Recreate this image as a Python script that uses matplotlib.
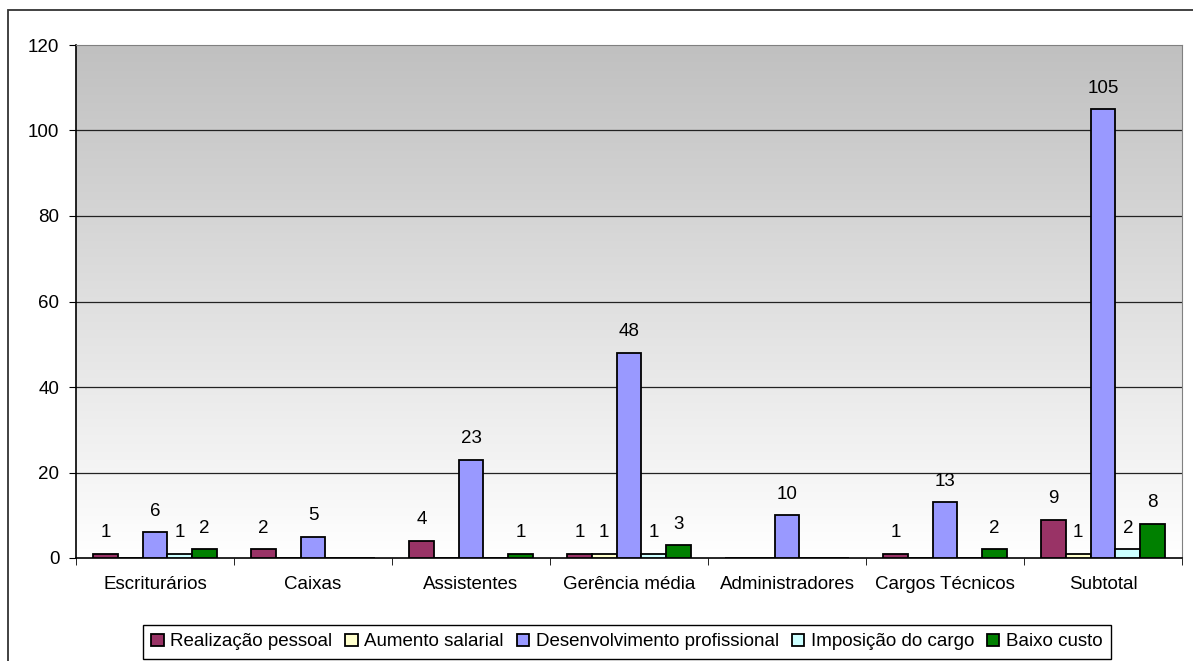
import numpy as np
import matplotlib.pyplot as plt
from matplotlib.patches import Rectangle
from matplotlib.colors import LinearSegmentedColormap

plt.rcParams['font.family'] = ['Liberation Sans', 'DejaVu Sans']

categorias = ['Escriturários', 'Caixas', 'Assistentes', 'Gerência média',
              'Administradores', 'Cargos Técnicos', 'Subtotal']
series = ['Realização pessoal', 'Aumento salarial', 'Desenvolvimento profissional',
          'Imposição do cargo', 'Baixo custo']
realizacao = [1, 2, 4, 1, 0, 1, 9]
aumento = [0, 0, 0, 1, 0, 0, 1]
desenvolvimento = [6, 5, 23, 48, 10, 13, 105]
imposicao = [1, 0, 0, 1, 0, 0, 2]
baixo_custo = [2, 0, 1, 3, 0, 2, 8]
cores = ['#993366', '#FFFFCC', '#9999FF', '#CCFFFF', '#008000']
yticks = [0, 20, 40, 60, 80, 100, 120]

valores = [realizacao, aumento, desenvolvimento, imposicao, baixo_custo]

fig = plt.figure(figsize=(11.93, 6.61), dpi=100)
# moldura do gráfico
fig.patches.append(Rectangle((8 / 1193, -0.1), 1.2, 1 - 10 / 661 + 0.1,
                             transform=fig.transFigure, fill=False,
                             edgecolor='#333333', lw=1.3))

ax = fig.add_axes([76 / 1193, 103 / 661, 1106 / 1193, 513 / 661])
n = len(categorias)
x = np.arange(n)
w = 0.157

# fundo em gradiente
grad = np.linspace(0, 1, 256).reshape(-1, 1)
ax.imshow(grad, cmap=LinearSegmentedColormap.from_list('g', ['#FFFFFF', '#C0C0C0']),
          origin='lower', aspect='auto', extent=[-0.5, n - 0.5, 0, 120], zorder=0)

for yv in yticks[1:-1]:
    ax.axhline(yv, color='#222222', lw=0.9, zorder=1)

for i, (vals, cor, nome) in enumerate(zip(valores, cores, series)):
    pos = x + (i - 2) * w
    ax.bar(pos, vals, width=w, color=cor, edgecolor='black', lw=1.3,
           label=nome, zorder=3)
    for p, v in zip(pos, vals):
        if v > 0:
            ax.annotate(str(v), (p, v), xytext=(0, 9), textcoords='offset points',
                        ha='center', va='bottom', fontsize=13.5, zorder=4)

ax.set_xlim(-0.5, n - 0.5)
ax.set_ylim(0, 120)
ax.set_yticks(yticks)
ax.tick_params(axis='y', labelsize=13.5, direction='out', length=5, pad=7, color='black')
ax.set_xticks(x)
ax.set_xticklabels(categorias, fontsize=13.5)
ax.tick_params(axis='x', which='major', length=0, pad=13)
ax.set_xticks(np.arange(n + 1) - 0.5, minor=True)
ax.tick_params(axis='x', which='minor', length=5, direction='out')

for s in ['top', 'right']:
    ax.spines[s].set_color('#808080')
for s in ['left', 'bottom']:
    ax.spines[s].set_color('black')
    ax.spines[s].set_linewidth(1.2)

leg = fig.legend(loc='upper left', bbox_to_anchor=(143 / 1193, 1 - 625 / 661), ncol=5,
                 fontsize=13.5, handlelength=0.65, handleheight=0.65,
                 handletextpad=0.35, columnspacing=0.7, borderpad=0.45,
                 borderaxespad=0, fancybox=False, framealpha=1, edgecolor='black')
leg.get_frame().set_linewidth(1.0)

fig.savefig('out.png', dpi=100)
